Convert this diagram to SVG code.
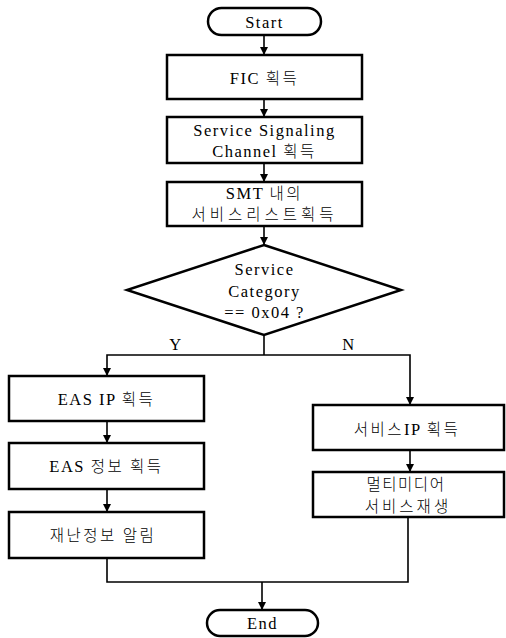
<svg xmlns="http://www.w3.org/2000/svg" width="506" height="638" viewBox="0 0 506 638">
  <defs>
    <marker id="arrow" viewBox="0 0 10 10" refX="10" refY="5" markerWidth="8" markerHeight="8" markerUnits="userSpaceOnUse" orient="auto">
      <path d="M0,0 L10,5 L0,10 Z" fill="#000"/>
    </marker>
    <style>
      .shape { fill: #fff; stroke: #000; stroke-width: 2.5; }
      .link { fill: none; stroke: #000; stroke-width: 1.6; }
      .lbl { font-family: "Liberation Serif", serif; font-size: 16.5px; fill: #000; text-anchor: middle; letter-spacing: 1.5px; }
      .kr { font-family: "Noto Sans CJK KR", sans-serif; font-size: 15.5px; font-weight: 300; letter-spacing: 2.5px; }
    </style>
  </defs>

  <!-- connectors -->
  <g id="connectors">
    <path class="link" d="M264,35 V55" marker-end="url(#arrow)"/>
    <path class="link" d="M264,99 V117" marker-end="url(#arrow)"/>
    <path class="link" d="M264,163 V182" marker-end="url(#arrow)"/>
    <path class="link" d="M264,226 V245" marker-end="url(#arrow)"/>
    <path class="link" d="M264,335 V355"/>
    <path class="link" d="M264,355 H107 V376" marker-end="url(#arrow)"/>
    <path class="link" d="M264,355 H410 V405" marker-end="url(#arrow)"/>
    <path class="link" d="M107,421 V443" marker-end="url(#arrow)"/>
    <path class="link" d="M107,489 V512" marker-end="url(#arrow)"/>
    <path class="link" d="M410,450 V472" marker-end="url(#arrow)"/>
    <path class="link" d="M107,558 V582 H408 V517"/>
    <path class="link" d="M262,582 V610" marker-end="url(#arrow)"/>
    <text class="lbl" x="176" y="350">Y</text>
    <text class="lbl" x="349" y="350">N</text>
  </g>

  <g id="start">
    <rect class="shape" x="208" y="8" width="113" height="27" rx="13.5"/>
    <text class="lbl" x="264.5" y="28">Start</text>
  </g>

  <g id="fic">
    <rect class="shape" x="167" y="55" width="195" height="44"/>
    <text class="lbl" x="264.5" y="84">FIC <tspan class="kr">획득</tspan></text>
  </g>

  <g id="ssc">
    <rect class="shape" x="167" y="117" width="195" height="46"/>
    <text class="lbl" x="264.5" y="135.5">Service Signaling</text>
    <text class="lbl" x="264.5" y="157">Channel  <tspan class="kr">획득</tspan></text>
  </g>

  <g id="smt">
    <rect class="shape" x="167" y="182" width="195" height="44"/>
    <text class="lbl" x="264.5" y="199">SMT <tspan class="kr">내의</tspan></text>
    <text class="lbl kr" x="264.5" y="220" style="letter-spacing:4px">서비스리스트획득</text>
  </g>

  <g id="decision">
    <polygon class="shape" points="264,245 401,290 264,335 127,290"/>
    <text class="lbl" x="264.5" y="275">Service</text>
    <text class="lbl" x="264.5" y="297">Category</text>
    <text class="lbl" x="264.5" y="318">==  0x04  ?</text>
  </g>

  <g id="eas-ip">
    <rect class="shape" x="9" y="376" width="195" height="45"/>
    <text class="lbl" x="106.5" y="405">EAS IP <tspan class="kr">획득</tspan></text>
  </g>

  <g id="eas-info">
    <rect class="shape" x="9" y="443" width="195" height="46"/>
    <text class="lbl" x="106.5" y="472">EAS <tspan class="kr">정보 획득</tspan></text>
  </g>

  <g id="alert">
    <rect class="shape" x="9" y="512" width="195" height="46"/>
    <text class="lbl kr" x="103" y="541">재난정보  알림</text>
  </g>

  <g id="service-ip">
    <rect class="shape" x="313" y="405" width="191" height="45"/>
    <text class="lbl" x="407" y="435"><tspan class="kr">서비스</tspan>IP <tspan class="kr">획득</tspan></text>
  </g>

  <g id="multimedia">
    <rect class="shape" x="313" y="472" width="191" height="45"/>
    <text class="lbl kr" x="406" y="490" style="letter-spacing:1.5px">멀티미디어</text>
    <text class="lbl kr" x="408" y="512" style="letter-spacing:3px">서비스재생</text>
  </g>

  <g id="end">
    <rect class="shape" x="207" y="610" width="111" height="26" rx="13"/>
    <text class="lbl" x="262.5" y="629">End</text>
  </g>
</svg>
